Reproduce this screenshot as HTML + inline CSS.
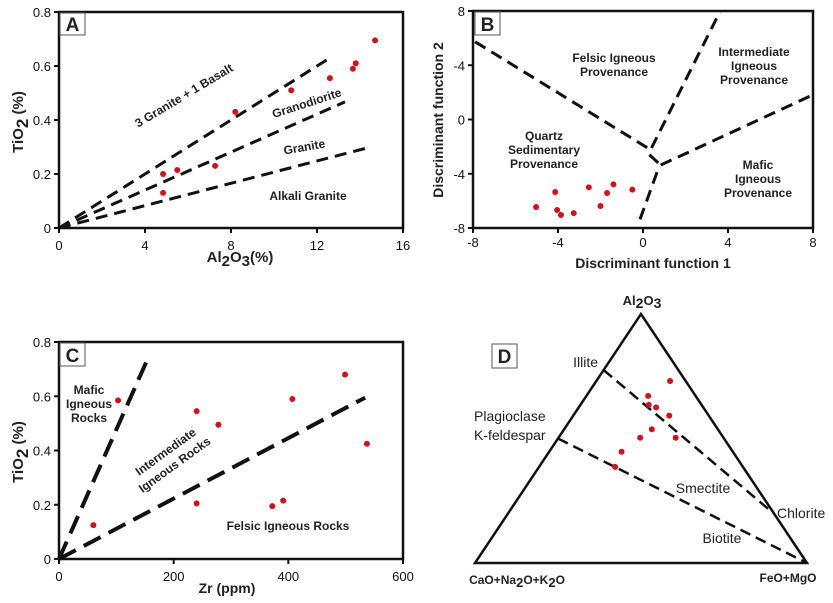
<!DOCTYPE html>
<html><head><meta charset="utf-8"><style>
html,body{margin:0;padding:0;background:#fff;}
svg{display:block;font-family:"Liberation Sans",Arial,sans-serif;}
.t{font-size:13px;fill:#111;}
.b{font-weight:bold;fill:#222;}
</style></head><body>
<svg id="chart" width="833" height="603" viewBox="0 0 833 603" xmlns="http://www.w3.org/2000/svg"></svg>
<script>
// ---- Panel A data ----
const aAl = [4.84, 4.84, 5.5, 7.26, 8.2, 10.8, 12.6, 13.67, 13.8, 14.7];
const aTi = [0.20, 0.13, 0.215, 0.23, 0.43, 0.51, 0.555, 0.59, 0.61, 0.695];
const aLineEndX = [12.6, 13.3, 14.3];
const aLineEndY = [0.63, 0.467, 0.296];
const aXTicks = [0, 4, 8, 12, 16];
const aYTicks = [0, 0.2, 0.4, 0.6, 0.8];
const aYTickLabels = ["0", "0.2", "0.4", "0.6", "0.8"];
// ---- Panel B data ----
const bDF1 = [-5.03, -4.13, -4.04, -3.86, -3.26, -2.55, -2.0, -1.69, -1.39, -0.5];
const bDF2 = [-6.45, -5.35, -6.67, -7.04, -6.9, -5.0, -6.38, -5.42, -4.78, -5.17];
const bLinesX = [[-7.9, 0.22], [0.4, 3.62], [0.3, 0.83], [-0.14, 0.75], [0.83, 7.97]];
const bLinesY = [[5.73, -2.1], [-2.1, 7.95], [-2.6, -3.36], [-7.36, -3.5], [-3.36, 1.8]];
const bXTicks = [-8, -4, 0, 4, 8];
const bYTicks = [8, 4, 0, -4, -8];
const bYTickLabels = ["8", "-4", "0", "-4", "-8"];
// ---- Panel C data ----
const cZr = [60, 103, 240, 278, 240, 372, 391, 407, 499, 537];
const cTi = [0.125, 0.585, 0.545, 0.495, 0.205, 0.195, 0.215, 0.59, 0.68, 0.425];
const cLineEndX = [153, 534];
const cLineEndY = [0.73, 0.595];
const cXTicks = [0, 200, 400, 600];
const cYTicks = [0, 0.2, 0.4, 0.6, 0.8];
const cYTickLabels = ["0", "0.2", "0.4", "0.6", "0.8"];
// ---- Panel D data (ternary fractions) ----
const dAl = [0.731, 0.671, 0.635, 0.625, 0.592, 0.537, 0.503, 0.503, 0.447, 0.386];
const dFM = [0.222, 0.186, 0.206, 0.233, 0.289, 0.264, 0.246, 0.353, 0.218, 0.229];
const dLineAl = [[0.775, 0.202], [0.5, 0]];
const dLineFM = [[0, 0.796], [0, 1]];

const svg = document.getElementById('chart');
const NS = 'http://www.w3.org/2000/svg';
function mk(tag, attrs, parent) {
  const e = document.createElementNS(NS, tag);
  for (const k in attrs) e.setAttribute(k, attrs[k]);
  (parent || svg).appendChild(e);
  return e;
}
function txt(x, y, s, cls, parent, extra) {
  const e = mk('text', Object.assign({x: x, y: y, class: cls}, extra || {}), parent);
  e.innerHTML = s;
  return e;
}
function panel(name) {
  const grp = mk('g', {});
  
  
  return grp;
}

// ================= Panel A =================
{
  const g = panel('panel-a');
  const X0 = 59, X1 = 403, Y0 = 228, Y1 = 12;
  const sx = v => X0 + (v - 0) / 16 * (X1 - X0);
  const sy = v => Y0 - v / 0.8 * (Y0 - Y1);
  const frame = mk('rect', {x: X0, y: Y1, width: X1 - X0, height: Y0 - Y1, fill: 'none', stroke: '#111', 'stroke-width': 2.5}, g);
  
  
  aXTicks.forEach(t => {
    mk('line', {x1: sx(t), x2: sx(t), y1: Y0, y2: Y0 + 5, stroke: '#111', 'stroke-width': 2}, g);
    const l = txt(sx(t), Y0 + 22, String(t), 't', g, {'text-anchor': 'middle'});
    
    
  });
  aYTicks.forEach((t, i) => {
    mk('line', {x1: X0 - 5, x2: X0, y1: sy(t), y2: sy(t), stroke: '#111', 'stroke-width': 2}, g);
    const l = txt(X0 - 8, sy(t) + 5, aYTickLabels[i], 't', g, {'text-anchor': 'end'});
    
    
  });
  aLineEndX.forEach((x, i) => {
    const l = mk('line', {x1: sx(0), y1: sy(0), x2: sx(x), y2: sy(aLineEndY[i]), stroke: '#111', 'stroke-width': 3, 'stroke-dasharray': '12 7'}, g);
    
    
  });
  aAl.forEach((x, i) => {
    const c = mk('circle', {cx: sx(x), cy: sy(aTi[i]), r: 3, fill: '#d0121b'}, g);
    
    
  });
  mk('rect', {x: 60, y: 13, width: 25, height: 22, fill: '#fff', stroke: '#555', 'stroke-width': 1}, g);
  const lab = txt(72.5, 31, 'A', 'b', g, {'text-anchor': 'middle', 'font-size': 19});
  
  
  txt(0, 0, '3 Granite + 1 Basalt', 'b', g, {'font-size': 12, 'text-anchor': 'middle', transform: 'translate(186,99) rotate(-31)'});
  txt(0, 0, 'Granodiorite', 'b', g, {'font-size': 12, 'text-anchor': 'middle', transform: 'translate(308,107) rotate(-18)'});
  txt(0, 0, 'Granite', 'b', g, {'font-size': 12, 'text-anchor': 'middle', transform: 'translate(305,151) rotate(-10)'});
  txt(308, 200, 'Alkali Granite', 'b', g, {'font-size': 12, 'text-anchor': 'middle'});
  const yt = txt(0, 0, 'TiO<tspan font-size="17" dy="5">2</tspan><tspan dy="-5"> (%)</tspan>', 'b', g, {'font-size': 15, 'text-anchor': 'middle', transform: 'translate(23,122) rotate(-90)'});
  
  
  const xt = txt(240, 262, 'Al<tspan font-size="15" dy="4">2</tspan><tspan dy="-4">O</tspan><tspan font-size="15" dy="4">3</tspan><tspan dy="-4">(%)</tspan>', 'b', g, {'font-size': 15, 'text-anchor': 'middle'});
  
  
}

// ================= Panel B =================
{
  const g = panel('panel-b');
  const X0 = 473, X1 = 813, Y0 = 228, Y1 = 11;
  const sx = v => X0 + (v + 8) / 16 * (X1 - X0);
  const sy = v => Y0 - (v + 8) / 16 * (Y0 - Y1);
  const frame = mk('rect', {x: X0, y: Y1, width: X1 - X0, height: Y0 - Y1, fill: 'none', stroke: '#111', 'stroke-width': 2.5}, g);
  
  
  bXTicks.forEach(t => {
    mk('line', {x1: sx(t), x2: sx(t), y1: Y0, y2: Y0 + 5, stroke: '#111', 'stroke-width': 2}, g);
    const l = txt(sx(t), Y0 + 19, String(t), 't', g, {'text-anchor': 'middle'});
    
    
  });
  bYTicks.forEach((t, i) => {
    mk('line', {x1: X0 - 5, x2: X0, y1: sy(t), y2: sy(t), stroke: '#111', 'stroke-width': 2}, g);
    const l = txt(X0 - 8, sy(t) + 5, bYTickLabels[i], 't', g, {'text-anchor': 'end'});
    
    
  });
  bLinesX.forEach((xs, i) => {
    const l = mk('line', {x1: sx(xs[0]), y1: sy(bLinesY[i][0]), x2: sx(xs[1]), y2: sy(bLinesY[i][1]), stroke: '#111', 'stroke-width': 3, 'stroke-dasharray': '12 7'}, g);
    
    
  });
  bDF1.forEach((x, i) => {
    const c = mk('circle', {cx: sx(x), cy: sy(bDF2[i]), r: 3, fill: '#d0121b'}, g);
    
    
  });
  mk('rect', {x: 475, y: 12, width: 25, height: 23, fill: '#fff', stroke: '#555', 'stroke-width': 1}, g);
  txt(487.5, 31, 'B', 'b', g, {'text-anchor': 'middle', 'font-size': 19});
  const blk = (cx, ys, lines) => lines.forEach((s, i) => txt(cx, ys + i * 14, s, 'b', g, {'font-size': 12, 'text-anchor': 'middle'}));
  blk(614, 62, ['Felsic Igneous', 'Provenance']);
  blk(754, 56, ['Intermediate', 'Igneous', 'Provenance']);
  blk(544, 140, ['Quartz', 'Sedimentary', 'Provenance']);
  blk(758, 169, ['Mafic', 'Igneous', 'Provenance']);
  const yt = txt(0, 0, 'Discriminant function 2', 'b', g, {'font-size': 14, 'text-anchor': 'middle', transform: 'translate(443,120) rotate(-90)'});
  
  
  const xt = txt(653, 268, 'Discriminant function 1', 'b', g, {'font-size': 14, 'text-anchor': 'middle'});
  
  
}

// ================= Panel C =================
{
  const g = panel('panel-c');
  const X0 = 59, X1 = 403, Y0 = 559, Y1 = 342;
  const sx = v => X0 + v / 600 * (X1 - X0);
  const sy = v => Y0 - v / 0.8 * (Y0 - Y1);
  const frame = mk('rect', {x: X0, y: Y1, width: X1 - X0, height: Y0 - Y1, fill: 'none', stroke: '#111', 'stroke-width': 2.5}, g);
  
  
  cXTicks.forEach(t => {
    mk('line', {x1: sx(t), x2: sx(t), y1: Y0, y2: Y0 + 5, stroke: '#111', 'stroke-width': 2}, g);
    const l = txt(sx(t), Y0 + 22, String(t), 't', g, {'text-anchor': 'middle'});
    
    
  });
  cYTicks.forEach((t, i) => {
    mk('line', {x1: X0 - 5, x2: X0, y1: sy(t), y2: sy(t), stroke: '#111', 'stroke-width': 2}, g);
    const l = txt(X0 - 8, sy(t) + 5, cYTickLabels[i], 't', g, {'text-anchor': 'end'});
    
    
  });
  cLineEndX.forEach((x, i) => {
    const l = mk('line', {x1: sx(0), y1: sy(0), x2: sx(x), y2: sy(cLineEndY[i]), stroke: '#111', 'stroke-width': 4, 'stroke-dasharray': '19 9'}, g);
    
    
  });
  cZr.forEach((x, i) => {
    const c = mk('circle', {cx: sx(x), cy: sy(cTi[i]), r: 3, fill: '#d0121b'}, g);
    
    
  });
  mk('rect', {x: 60, y: 343, width: 25, height: 23, fill: '#fff', stroke: '#555', 'stroke-width': 1}, g);
  txt(72.5, 362, 'C', 'b', g, {'text-anchor': 'middle', 'font-size': 19});
  ['Mafic', 'Igneous', 'Rocks'].forEach((s, i) => txt(89, 394 + i * 14, s, 'b', g, {'font-size': 12, 'text-anchor': 'middle'}));
  txt(0, 0, 'Intermediate', 'b', g, {'font-size': 12, 'text-anchor': 'middle', transform: 'translate(168,455) rotate(-36)'});
  txt(0, 0, 'Igneous Rocks', 'b', g, {'font-size': 12, 'text-anchor': 'middle', transform: 'translate(177,468) rotate(-36)'});
  txt(288, 530, 'Felsic Igneous Rocks', 'b', g, {'font-size': 12, 'text-anchor': 'middle'});
  const yt = txt(0, 0, 'TiO<tspan font-size="17" dy="5">2</tspan><tspan dy="-5"> (%)</tspan>', 'b', g, {'font-size': 15, 'text-anchor': 'middle', transform: 'translate(23,452) rotate(-90)'});
  
  
  const xt = txt(227, 593, 'Zr (ppm)', 'b', g, {'font-size': 14, 'text-anchor': 'middle'});
  
  
}

// ================= Panel D =================
{
  const g = panel('panel-d');
  const L = 475, R = 807, B = 563, T = 314;
  const tx = (al, fm) => L + (fm + al / 2) * (R - L);
  const ty = al => B - al * (B - T);
  const tri = mk('polygon', {points: `${L},${B} ${R},${B} ${tx(1,0)},${T}`, fill: 'none', stroke: '#111', 'stroke-width': 2.5, 'stroke-linejoin': 'miter'}, g);
  
  
  dLineAl.forEach((als, i) => {
    const l = mk('line', {x1: tx(als[0], dLineFM[i][0]), y1: ty(als[0]), x2: tx(als[1], dLineFM[i][1]), y2: ty(als[1]), stroke: '#111', 'stroke-width': 2.5, 'stroke-dasharray': '11 6'}, g);
    
    
  });
  dAl.forEach((a, i) => {
    const c = mk('circle', {cx: tx(a, dFM[i]), cy: ty(a), r: 3, fill: '#d0121b'}, g);
    
    
  });
  mk('rect', {x: 492, y: 344, width: 25, height: 24, fill: '#fff', stroke: '#555', 'stroke-width': 1}, g);
  txt(504.5, 363, 'D', 'b', g, {'text-anchor': 'middle', 'font-size': 19});
  const n = {'font-size': 14, fill: '#222'};
  txt(598, 367, 'Illite', '', g, Object.assign({'text-anchor': 'end'}, n));
  txt(474, 421, 'Plagioclase', '', g, n);
  txt(474, 440, 'K-feldespar', '', g, n);
  txt(703, 493, 'Smectite', '', g, Object.assign({'text-anchor': 'middle'}, n));
  txt(777, 518, 'Chlorite', '', g, n);
  txt(722, 543, 'Biotite', '', g, Object.assign({'text-anchor': 'middle'}, n));
  txt(642, 305, 'Al<tspan font-size="14" dy="3">2</tspan><tspan dy="-3">O</tspan><tspan font-size="14" dy="3">3</tspan>', 'b', g, {'font-size': 13, 'text-anchor': 'middle'});
  txt(517, 584, 'CaO+Na<tspan font-size="13" dy="3">2</tspan><tspan dy="-3">O+K</tspan><tspan font-size="13" dy="3">2</tspan><tspan dy="-3">O</tspan>', 'b', g, {'font-size': 12, 'text-anchor': 'middle'});
  txt(788, 582, 'FeO+MgO', 'b', g, {'font-size': 12, 'text-anchor': 'middle'});
}
</script>
</body></html>
